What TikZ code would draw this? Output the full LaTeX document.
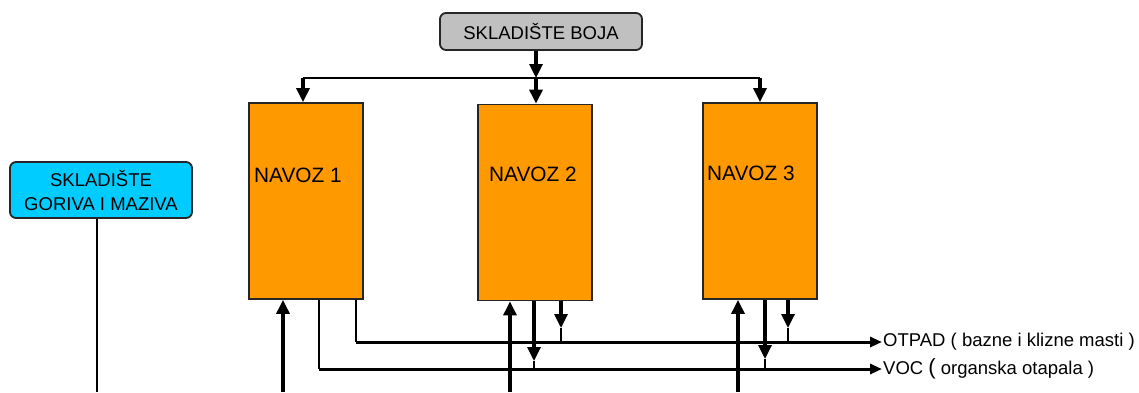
\documentclass[tikz,border=0pt]{standalone}
\usepackage{fontspec}
\setmainfont{Liberation Sans}
\usetikzlibrary{arrows.meta}
\definecolor{bojagray}{HTML}{C0C0C0}
\definecolor{gorivocyan}{HTML}{00CCFF}
\definecolor{navozorange}{HTML}{FF9900}
\begin{document}
\begin{tikzpicture}[x=1pt,y=-1pt,
  storebox/.style={draw=black!85, line width=1.8pt, rounded corners=6pt, inner sep=0pt,
    font=\fontsize{18.5}{24}\selectfont},
  navoz/.style={draw=black!85, line width=1.8pt, fill=navozorange, inner sep=0pt,
    minimum width=114pt, minimum height=196pt},
  navozlabel/.style={anchor=west, inner sep=0pt, font=\fontsize{20.8}{24}\selectfont},
  flowlabel/.style={anchor=west, inner sep=1pt, font=\fontsize{18.5}{22}\selectfont},
  conn/.style={line width=1.8pt},
  flow/.style={line width=3.2pt, -{Triangle[width=13pt,length=14pt]}},
  busflow/.style={line width=3pt, -{Triangle[width=10pt,length=12pt]}}]
\useasboundingbox (0,0) rectangle (1139,392);

% storage units
\node[storebox, fill=bojagray, minimum width=202pt, minimum height=37pt] (boja) at (541,31.5) {SKLADIŠTE BOJA};
\node[storebox, fill=gorivocyan, minimum width=182pt, minimum height=56pt, align=center] (gorivo) at (101,190) {SKLADIŠTE\\GORIVA I MAZIVA};

% slipways
\node[navoz] (n1) at (306,201) {};
\node[navoz] (n2) at (535,202.5) {};
\node[navoz] (n3) at (760,201) {};
\node[navozlabel] (n1t) at (254,175) {NAVOZ 1};
\node[navozlabel] (n2t) at (489,174) {NAVOZ 2};
\node[navozlabel] (n3t) at (707,173) {NAVOZ 3};

% paint distribution
\coordinate (split) at (536,78);
\coordinate (in1) at (303,78);
\coordinate (in3) at (760,78);
\draw[flow] (split |- boja.south) -- (split);
\draw[conn] (in1) -- (in3);
\draw[flow] (in1) -- (in1 |- n1.north);
\draw[flow] (split) -- (split |- n2.north);
\draw[flow] (in3) -- (in3 |- n3.north);

% fuel and lubricant supply
\coordinate (fuelend) at (97,392);
\draw[conn] (gorivo.south -| fuelend) -- (fuelend);
\coordinate (f1) at (283,392);
\coordinate (f2) at (510,392);
\coordinate (f3) at (738,392);
\draw[flow] (f1) -- (f1 |- n1.south);
\draw[flow] (f2) -- (f2 |- n2.south);
\draw[flow] (f3) -- (f3 |- n3.south);

% outputs
\coordinate (otpad) at (882,342);
\coordinate (voc) at (882,369);
\node[flowlabel] (otpadt) at (otpad) {OTPAD ( bazne i klizne masti )};
\node[flowlabel] (voct) at (voc) {VOC {\fontsize{22}{22}\selectfont(} organska otapala )};

\coordinate (v1) at (319,369);
\coordinate (o1) at (356,342);
\draw[conn] (v1 |- n1.south) -- (v1);
\draw[conn] (o1 |- n1.south) -- (o1);
\draw[busflow] (v1) -- (voc);
\draw[busflow] (o1) -- (otpad);

\coordinate (v2) at (534,369);
\coordinate (v2tip) at (534,361);
\coordinate (o2) at (561,342);
\coordinate (o2tip) at (561,328);
\draw[flow] (v2 |- n2.south) -- (v2tip);
\draw[conn] (v2tip) -- (v2);
\draw[flow] (o2 |- n2.south) -- (o2tip);
\draw[conn] (o2tip) -- (o2);

\coordinate (v3) at (765,369);
\coordinate (v3tip) at (765,359);
\coordinate (o3) at (788,342);
\coordinate (o3tip) at (788,328);
\draw[flow] (v3 |- n3.south) -- (v3tip);
\draw[conn] (v3tip) -- (v3);
\draw[flow] (o3 |- n3.south) -- (o3tip);
\draw[conn] (o3tip) -- (o3);
\end{tikzpicture}
\end{document}
